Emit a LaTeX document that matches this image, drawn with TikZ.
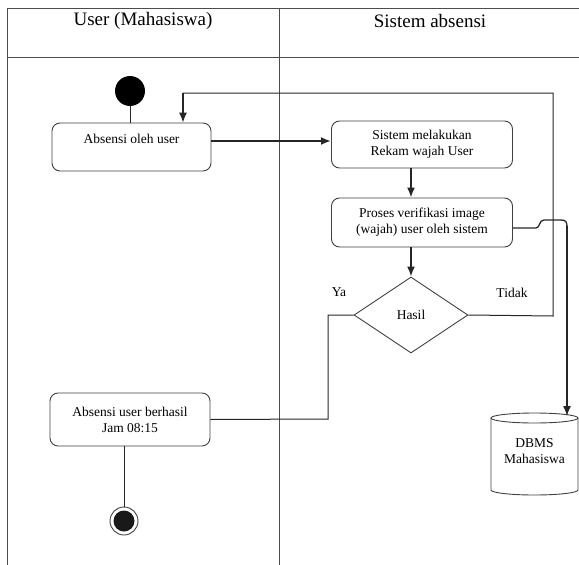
\documentclass[tikz,border=0pt]{standalone}
\usepackage{fontspec}
\setmainfont{Liberation Serif}
\usetikzlibrary{arrows.meta,shapes.geometric}
\begin{document}
\begin{tikzpicture}[x=1pt,y=-1pt,
  frameline/.style={draw=black!70,line width=0.9pt},
  act/.style={draw=black!75,line width=0.9pt,rounded corners=8pt,align=center,
    font=\fontsize{13.5}{16}\selectfont,inner sep=0pt},
  flow/.style={draw=black!85,line width=1pt},
  tip/.style={-{Latex[length=10pt,width=8pt]}},
  head/.style={font=\fontsize{19}{22}\selectfont},
  lbl/.style={font=\fontsize{13.5}{16}\selectfont}]
\useasboundingbox (0,0) rectangle (579,565);
% swimlane frame
\draw[frameline] (7,565) -- (7,8) -- (579,8);
\draw[frameline] (7,57) -- (579,57);
\draw[frameline] (279,8) -- (279,565);
\node[head] (laneuser) at (143,21) {User (Mahasiswa)};
\node[head] (lanesys) at (430,21) {Sistem absensi};
% start and end
\node[circle,fill=black,minimum size=30pt,inner sep=0pt] (start) at (130,91) {};
\node[circle,draw=black!75,line width=0.9pt,minimum size=28pt,inner sep=0pt] (stop) at (124,521) {};
\node[circle,fill=black!90,minimum size=21pt,inner sep=0pt] (stopdot) at (124,521) {};
% activities
\node[act,minimum width=159pt,minimum height=48pt] (a1) at (131.5,147) {Absensi oleh user\\\mbox{}};
\node[act,minimum width=181pt,minimum height=47pt] (a2) at (422,144.5) {Sistem melakukan\\Rekam wajah User};
\node[act,minimum width=181pt,minimum height=49pt] (a3) at (422,222.5) {Proses verifikasi image\\(wajah) user oleh sistem};
\node[act,minimum width=160pt,minimum height=53pt] (a4) at (130,419.5) {Absensi user berhasil\\Jam 08:15};
\node[diamond,draw=black!75,line width=0.9pt,minimum width=114pt,minimum height=76pt,inner sep=0pt,lbl] (dec) at (411,315) {Hasil};
% database
\coordinate (dbtop) at (534.5,418);
\draw[black!75,line width=0.9pt] (491,418) -- (491,490) arc[start angle=180,end angle=360,x radius=43.5,y radius=-5] -- (578,418);
\draw[black!75,line width=0.9pt] (dbtop) ellipse[x radius=43.5,y radius=5];
\node[lbl,align=center] (db) at (534.5,451) {DBMS\\Mahasiswa};
\coordinate (dbin) at (567,416);
% connectors
\draw[flow] (start) -- (a1.north -| start);
\draw[flow,line width=2pt,tip] (a1.east |- 0,141) -- (a2.west |- 0,141);
\draw[flow,line width=1.6pt,tip] (a2.south -| 411,0) -- (a3.north -| 411,0);
\draw[flow,line width=1.6pt,tip] (a3.south -| 411,0) -- (dec.north);
\draw[flow] (dec.east) -- (553,316) -- (553,93) -- (183,93);
\draw[flow,line width=1.3pt,tip] (183,92.5) -- (a1.north -| 183,0);
\draw[flow] (dec.west) -- (328,315) -- (328,419) -- (a4.east);
\draw[flow] (a4.south -| stop) -- (stop.north);
\draw[flow,line width=1.3pt] (a3.east |- 0,228) -- (536,228)
  .. controls (540,228) and (539,220) .. (544,220) -- (561,220)
  .. controls (566,220) and (567,222) .. (567,227);
\draw[flow,line width=1.3pt,tip] (567,226) -- (dbin);
% guard labels
\node[lbl] (ya) at (339,292) {Ya};
\node[lbl] (tidak) at (512,293) {Tidak};
\end{tikzpicture}
\end{document}
